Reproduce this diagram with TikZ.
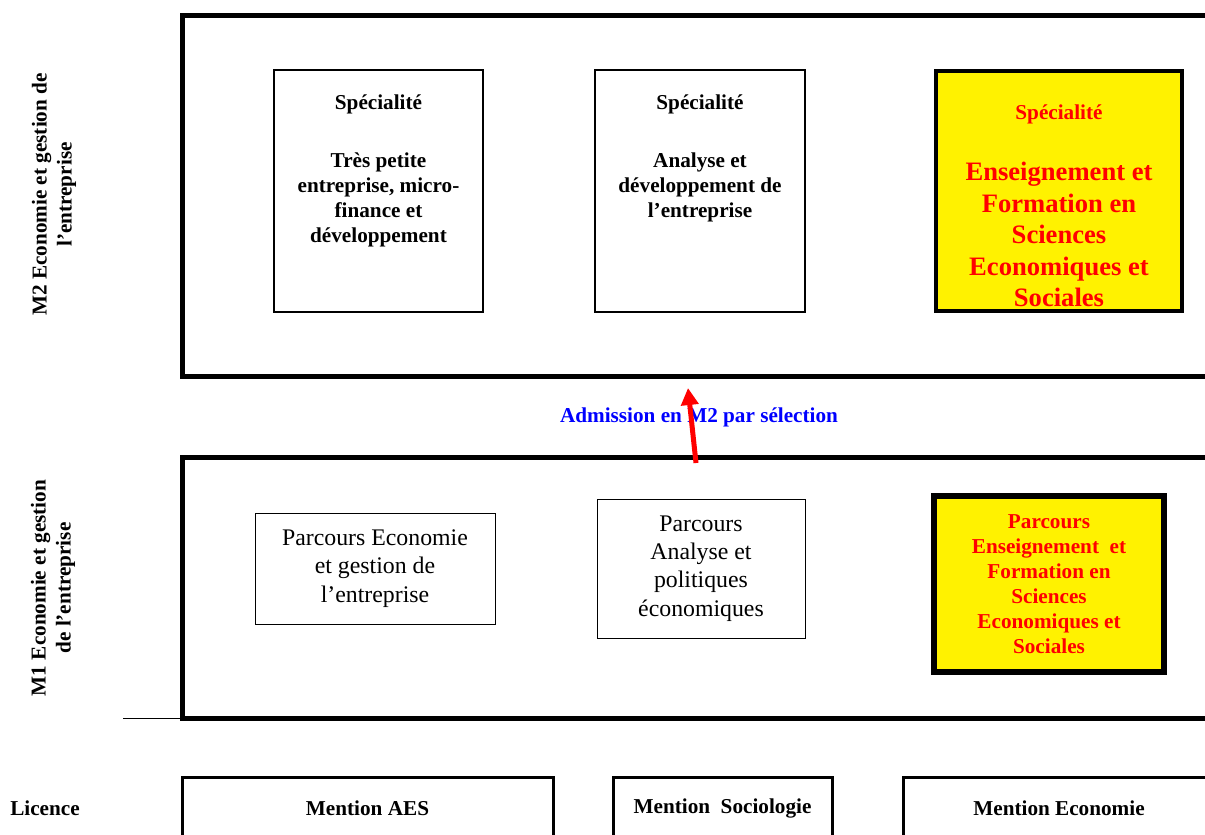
\documentclass[tikz,border=0pt]{standalone}
\usepackage{fontspec}
\setmainfont{Liberation Serif}
\usetikzlibrary{positioning,arrows.meta}

\tikzset{
	basefont/.style={font=\fontsize{10.6}{12.5}\selectfont\bfseries},
	bigfont/.style={font=\fontsize{13.3}{15.75}\selectfont\bfseries},
	levelframe/.style={draw, line width=2.5pt, inner sep=0pt, outer sep=0pt},
	specbox/.style={draw, line width=1.25pt, inner sep=0pt, outer sep=0pt},
	parcbox/.style={draw, line width=0.5pt, inner sep=0pt, outer sep=0pt, align=center,
		font=\fontsize{11.9}{14.2}\selectfont},
	mentionbox/.style={draw, line width=1.5pt, inner sep=0pt, outer sep=0pt, basefont},
	hilite/.style={fill=yellow, text=red},
	boxtext/.style={align=center, inner sep=0pt},
	levellabel/.style={rotate=90, align=center, inner sep=0pt, basefont},
}

\begin{document}
\begin{tikzpicture}[x=0.5pt, y=-0.5pt]
		\useasboundingbox (0,0) rectangle (1205,835);
		\clip (0,0) rectangle (1205,835);

		% M2 level
		\node[levelframe, minimum width=519pt, minimum height=180.5pt] (m2Frame) at (701,195.5) {};
		\node[levellabel] (m2Label) at (54,194.5) {M2 Economie et gestion de\\l’entreprise};

		\node[specbox, minimum width=104.5pt, minimum height=121pt] (specTPE) at (378.5,191) {};
		\node[boxtext, basefont, below=12pt of specTPE.north] (specTPEHead) {Spécialité};
		\node[boxtext, basefont, below=19pt of specTPEHead] (specTPEBody)
			{Très petite\\entreprise, micro-\\finance et\\développement};

		\node[specbox, minimum width=105pt, minimum height=121pt] (specADE) at (700,191) {};
		\node[boxtext, basefont, below=12pt of specADE.north] (specADEHead) {Spécialité};
		\node[boxtext, basefont, below=19pt of specADEHead] (specADEBody)
			{Analyse et\\développement de\\l’entreprise};

		\node[specbox, hilite, line width=2pt, minimum width=123pt, minimum height=120pt] (specEFS) at (1059,191) {};
		\node[boxtext, basefont, text=red, below=16.5pt of specEFS.north] (specEFSHead) {Spécialité};
		\node[boxtext, bigfont, text=red, below=19pt of specEFSHead] (specEFSBody)
			{Enseignement et\\Formation en\\Sciences\\Economiques et\\Sociales};

		% M1 level
		\node[levelframe, minimum width=519pt, minimum height=130.5pt] (m1Frame) at (701,587.5) {};
		\node[levellabel] (m1Label) at (53,588) {M1 Economie et gestion\\de l’entreprise};
		\coordinate (ruleEnd) at (123,718);
		\draw[line width=0.5pt] (ruleEnd) -- (m1Frame.south west);

		\node[parcbox, minimum width=120pt, minimum height=55.5pt] (parcEGE) at (375,568.5)
			{Parcours Economie\\et gestion de\\l’entreprise};
		\node[parcbox, minimum width=104pt, minimum height=69.5pt] (parcAPE) at (701,568.5)
			{Parcours\\Analyse et\\politiques\\économiques};
		\node[parcbox, hilite, basefont, line width=3pt, minimum width=115pt, minimum height=88pt] (parcEFS) at (1049,584)
			{Parcours\\Enseignement~~et\\Formation en\\Sciences\\Economiques et\\Sociales};

		% passage M1 -> M2
		\node[boxtext, basefont, text=blue] (admit) at (699,417) {Admission en M2 par sélection};
		\coordinate (admitFoot) at (696,463);
		\coordinate (admitTip) at (688,388);
		\draw[red, line width=2.5pt, -{Triangle[length=8.5pt, width=8.5pt]}] (admitFoot) -- (admitTip);

		% Licence level
		\node[boxtext, basefont] (licLabel) at (45,808) {Licence};
		\node[mentionbox, minimum width=185.5pt, minimum height=31pt] (menAES) at (367.5,808) {Mention AES};
		\node[mentionbox, minimum width=109.5pt, minimum height=31pt] (menSoc) at (722.5,808) {Mention~~Sociologie};
		\node[mentionbox, minimum width=156pt, minimum height=31pt] (menEco) at (1059,808) {Mention Economie};
	\end{tikzpicture}
\end{document}
